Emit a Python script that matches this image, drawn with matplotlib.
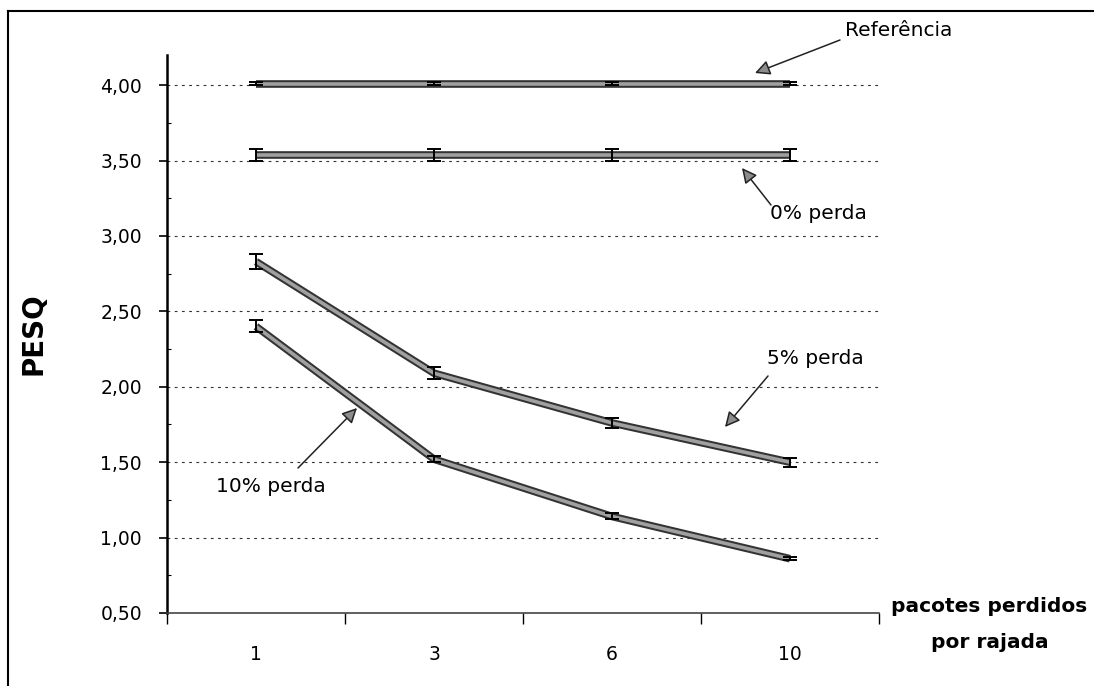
import matplotlib
matplotlib.use("Agg")
import matplotlib.pyplot as plt
import matplotlib.patheffects as pe
from matplotlib.lines import Line2D
from matplotlib.ticker import FixedLocator, FuncFormatter

# Burst size (lost packets per burst) and PESQ scores
categories = ["1", "3", "6", "10"]
ref_vals = [4.01, 4.01, 4.01, 4.01]
ref_err = [0.01, 0.01, 0.01, 0.01]
loss0_vals = [3.54, 3.54, 3.54, 3.54]
loss0_err = [0.04, 0.04, 0.04, 0.04]
loss5_vals = [2.83, 2.09, 1.76, 1.50]
loss5_err = [0.05, 0.04, 0.03, 0.03]
loss10_vals = [2.40, 1.52, 1.14, 0.86]
loss10_err = [0.04, 0.02, 0.02, 0.01]
y_ticks = [0.5, 1.0, 1.5, 2.0, 2.5, 3.0, 3.5, 4.0]

plt.rcParams["font.family"] = ["DejaVu Sans"]

fig = plt.figure(figsize=(10.94, 6.86), dpi=100)
ax = fig.add_axes([167 / 1094, 1 - 613 / 686, (879 - 167) / 1094, (613 - 55) / 686])

x = list(range(len(categories)))
ax.set_xlim(-0.5, len(categories) - 0.5)
ax.set_ylim(0.5, 4.2)

# dashed horizontal grid
for yv in y_ticks[1:]:
    ax.axhline(yv, color="#333333", lw=0.8, ls=(0, (2.5, 4)), zorder=1)

line_fx = [pe.Stroke(linewidth=5.5, foreground="#333333"), pe.Normal()]
for vals, errs in [(ref_vals, ref_err), (loss0_vals, loss0_err),
                   (loss5_vals, loss5_err), (loss10_vals, loss10_err)]:
    ax.plot(x, vals, color="#a0a0a0", lw=2.6, zorder=3, path_effects=line_fx,
            solid_capstyle="butt")
    ax.errorbar(x, vals, yerr=errs, fmt="none", ecolor="black", elinewidth=1.4,
                capsize=5, capthick=1.4, zorder=4)

# axes styling
for side in ["top", "right"]:
    ax.spines[side].set_visible(False)
ax.spines["left"].set_linewidth(1.8)
ax.spines["bottom"].set_linewidth(1.2)
ax.spines["bottom"].set_color("#444444")

ax.yaxis.set_major_locator(FixedLocator(y_ticks))
ax.yaxis.set_minor_locator(FixedLocator([v + 0.25 for v in y_ticks[:-1]]))
ax.yaxis.set_major_formatter(FuncFormatter(lambda v, p: f"{v:.2f}".replace(".", ",")))
ax.tick_params(axis="y", which="major", direction="out", length=6, width=1.2,
               pad=12, labelsize=13.5)
ax.tick_params(axis="y", which="minor", direction="in", length=3, width=0.8)

ax.set_xticks([i - 0.5 for i in range(len(categories) + 1)])
ax.set_xticklabels([])
ax.set_xticks(x, minor=True)
ax.set_xticklabels(categories, minor=True)
ax.tick_params(axis="x", which="major", direction="out", length=8, width=1.0)
ax.tick_params(axis="x", which="minor", length=0, pad=23, labelsize=13.5)

ax.set_ylabel("PESQ", fontsize=20, fontweight="bold", labelpad=38)

fig.text(891 / 1094, 1 - 607 / 686, "pacotes perdidos", fontsize=14.5,
         fontweight="bold", ha="left", va="center")
fig.text(990 / 1094, 1 - 642 / 686, "por rajada", fontsize=14.5,
         fontweight="bold", ha="center", va="center")

arrow_kw = dict(arrowstyle="-|>,head_length=0.9,head_width=0.45", color="#222222",
                lw=1.1, shrinkA=0, shrinkB=0)


def callout(text, text_px, tail_px, head_px):
    tx, ty = text_px
    fig.text(tx / 1094, 1 - ty / 686, text, fontsize=14.5, ha="left", va="center")
    ann = ax.annotate("", xy=(head_px[0] / 1094, 1 - head_px[1] / 686),
                      xycoords="figure fraction",
                      xytext=(tail_px[0] / 1094, 1 - tail_px[1] / 686),
                      textcoords="figure fraction",
                      arrowprops=dict(arrow_kw, facecolor="#8c8c8c"))
    ann.arrow_patch.set_facecolor("#8c8c8c")
    ann.arrow_patch.set_edgecolor("#222222")


callout("Referência", (845, 31), (840, 40), (755, 73))
callout("0% perda", (770, 213), (771, 205), (742, 168))
callout("5% perda", (767, 358), (768, 376), (725, 427))
callout("10% perda", (216, 486), (298, 468), (357, 408))

# outer frame (left and top edges)
fig.add_artist(Line2D([8 / 1094, 8 / 1094], [0, 1 - 11 / 686], color="black", lw=1.5))
fig.add_artist(Line2D([8 / 1094, 1], [1 - 11 / 686, 1 - 11 / 686], color="black", lw=1.5))

fig.savefig("out.png", dpi=100)
